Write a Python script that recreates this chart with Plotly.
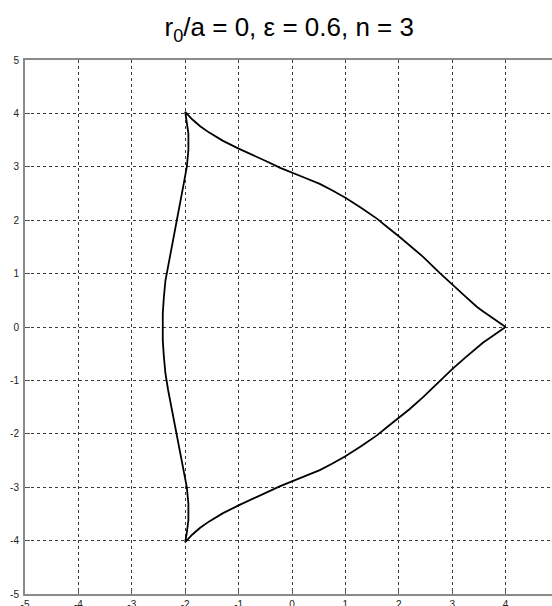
import plotly.graph_objects as go

# Closed curve traced counter-clockwise from the cusp at (4, 0)
curve_x = [
    4.00, 3.85, 3.71, 3.58, 3.46, 3.25, 3.00, 2.77, 2.46, 2.20, 2.00, 1.80, 1.59, 1.30,
    1.00, 0.75, 0.52, 0.25, 0.00, -0.22, -0.47, -0.75, -1.00, -1.30, -1.55, -1.72,
    -1.87, -2.00,
    -1.97, -1.94, -1.94, -1.97, -2.03, -2.08, -2.14, -2.20, -2.26, -2.32, -2.37, -2.40,
    -2.42, -2.42, -2.42, -2.40, -2.37, -2.32, -2.26, -2.20, -2.14, -2.08, -2.03, -1.97,
    -1.94, -1.94, -1.97, -2.00,
    -1.87, -1.72, -1.55, -1.30, -1.00, -0.75, -0.47, -0.22, 0.00, 0.25, 0.52, 0.75,
    1.00, 1.30, 1.59, 1.80, 2.00, 2.20, 2.46, 2.77, 3.00, 3.25, 3.46, 3.58, 3.71, 3.85,
    4.00,
]
curve_y = [
    0.00, 0.11, 0.20, 0.29, 0.38, 0.57, 0.79, 1.01, 1.31, 1.54, 1.70, 1.86, 2.03, 2.23,
    2.42, 2.56, 2.68, 2.79, 2.89, 2.98, 3.10, 3.22, 3.34, 3.49, 3.64, 3.76,
    3.89, 4.03,
    3.85, 3.62, 3.31, 3.00, 2.67, 2.40, 2.10, 1.80, 1.50, 1.18, 0.87, 0.55,
    0.25, 0.00, -0.25, -0.55, -0.87, -1.18, -1.50, -1.80, -2.10, -2.40, -2.67, -3.00,
    -3.31, -3.62, -3.85, -4.03,
    -3.89, -3.76, -3.64, -3.49, -3.34, -3.22, -3.10, -2.98, -2.89, -2.79, -2.68, -2.56,
    -2.42, -2.23, -2.03, -1.86, -1.70, -1.54, -1.31, -1.01, -0.79, -0.57, -0.38, -0.29, -0.20, -0.11,
    0.00,
]

tick_vals = [-5, -4, -3, -2, -1, 0, 1, 2, 3, 4, 5]
tick_text = [str(v) for v in tick_vals]

fig = go.Figure()
fig.add_trace(go.Scatter(
    x=curve_x, y=curve_y, mode="lines",
    line=dict(color="black", width=1.8),
    showlegend=False, hoverinfo="skip",
))

axis_common = dict(
    tickmode="array", tickvals=tick_vals, ticktext=tick_text,
    showgrid=True, gridcolor="#3a3a3a", gridwidth=1, griddash="dot",
    zeroline=False, showline=True, linecolor="#8a8a8a", linewidth=2,
    ticks="inside", ticklen=5, tickcolor="#555555", tickwidth=1,
    tickfont=dict(family="Liberation Sans, Arial, sans-serif", size=10, color="#222222"),
    automargin=False,
)

fig.update_layout(
    width=552, height=606,
    margin=dict(l=25, r=0, t=60, b=12),
    paper_bgcolor="white", plot_bgcolor="white",
    title=dict(
        text="r<sub>0</sub>/a = 0, \u03b5 = 0.6, n = 3",
        x=0.524, xanchor="center", y=0.955, yanchor="middle",
        font=dict(family="Liberation Sans, Arial, sans-serif", size=26, color="black"),
    ),
    xaxis=dict(range=[-5, 4.869], mirror=True, ticklabelstandoff=0, **axis_common),
    yaxis=dict(range=[-5, 5], mirror=False, ticklabelstandoff=2, **axis_common),
)

fig.write_html("out.html")
